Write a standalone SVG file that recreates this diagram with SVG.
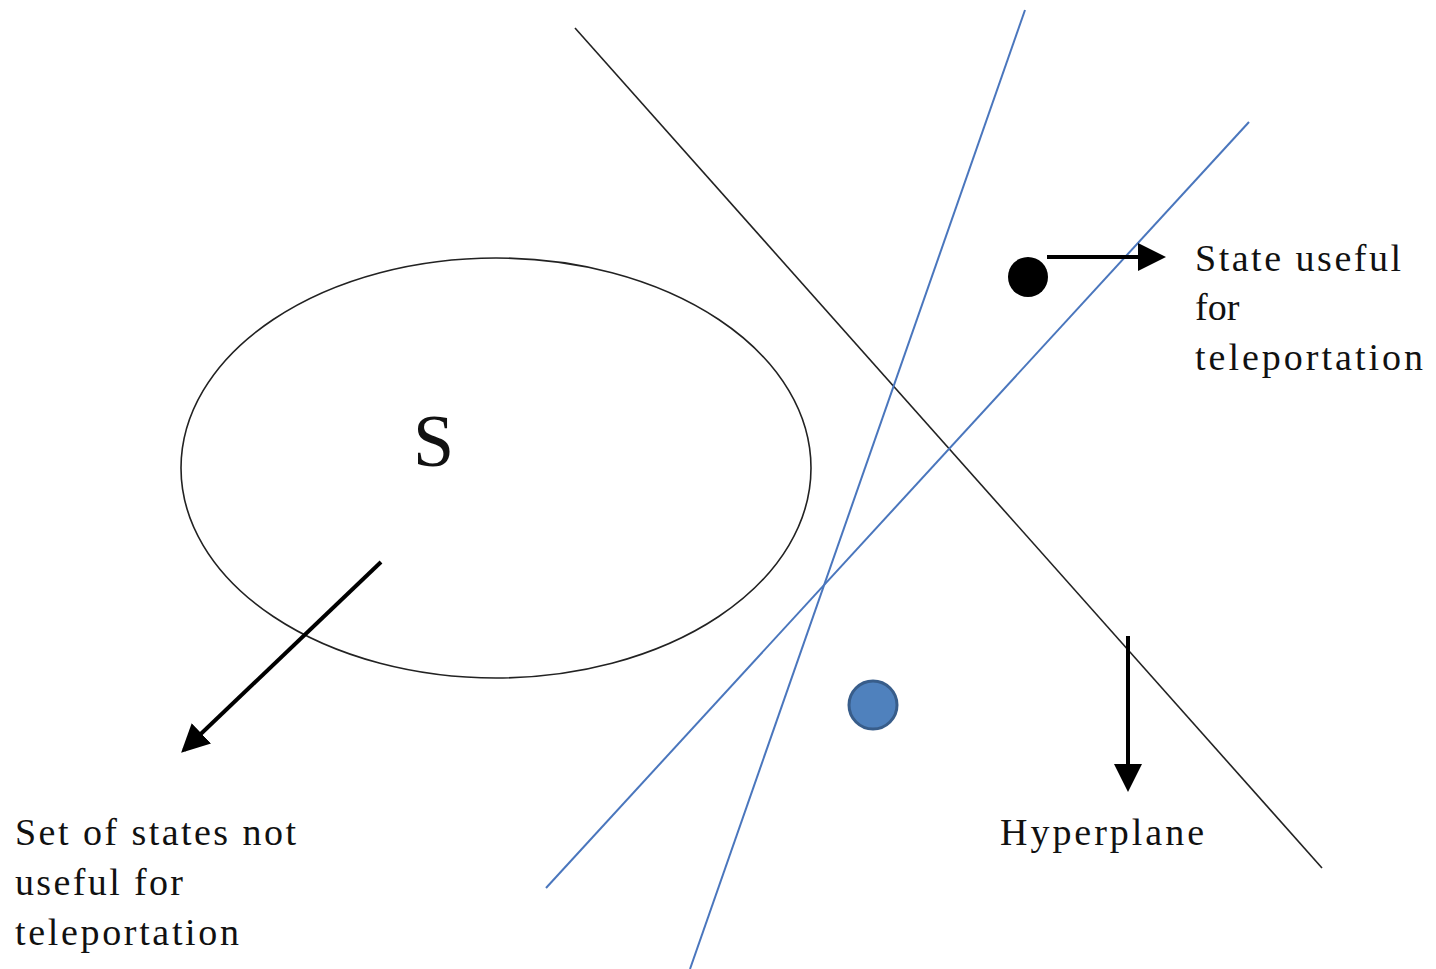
<svg xmlns="http://www.w3.org/2000/svg" width="1436" height="969" viewBox="0 0 1436 969">
<style>
.t{font-family:"Liberation Serif","DejaVu Serif",serif;fill:#111;font-size:38px}
.big{font-size:74px}
.thin{stroke:#222;stroke-width:1.6;fill:none}
.blue{stroke:#4a76bd;stroke-width:2;fill:none}
.arr{stroke:#000;stroke-width:4;fill:none;marker-end:url(#ah)}
</style>
<defs>
<marker id="ah" markerWidth="8" markerHeight="8" refX="6" refY="4" orient="auto" markerUnits="strokeWidth" viewBox="0 0 8 8">
<path d="M0,0.5 L7,4 L0,7.5 Z" fill="#000"/>
</marker>
</defs>
<rect width="1436" height="969" fill="#fff"/>
<g id="set-S">
<ellipse cx="496" cy="468" rx="315" ry="210" class="thin"/>
<text class="t big" x="413" y="466">S</text>
</g>
<g id="connectors">
<line class="thin" x1="575" y1="28" x2="1322" y2="868"/>
<line class="blue" x1="1025" y1="10" x2="690" y2="969"/>
<line class="blue" x1="1249" y1="122" x2="546" y2="888"/>
<line class="arr" x1="1047" y1="257" x2="1162" y2="257"/>
<line class="arr" x1="1128" y1="636" x2="1128" y2="788"/>
<line class="arr" x1="381" y1="562" x2="184" y2="750"/>
</g>
<g id="useful-state">
<circle cx="1028" cy="277" r="20" fill="#000"/>
<text class="t" x="1195" y="271" textLength="206">State useful</text>
<text class="t" x="1195" y="320">for</text>
<text class="t" x="1195" y="370" textLength="228">teleportation</text>
</g>
<g id="blue-point">
<circle cx="873" cy="705" r="24" fill="#4f81bd" stroke="#385d8a" stroke-width="3"/>
</g>
<g id="hyperplane-label">
<text class="t" x="1000" y="845" textLength="204">Hyperplane</text>
</g>
<g id="not-useful-label">
<text class="t" x="15" y="845" textLength="281">Set of states not</text>
<text class="t" x="15" y="895" textLength="168">useful for</text>
<text class="t" x="15" y="945" textLength="224">teleportation</text>
</g>
</svg>
